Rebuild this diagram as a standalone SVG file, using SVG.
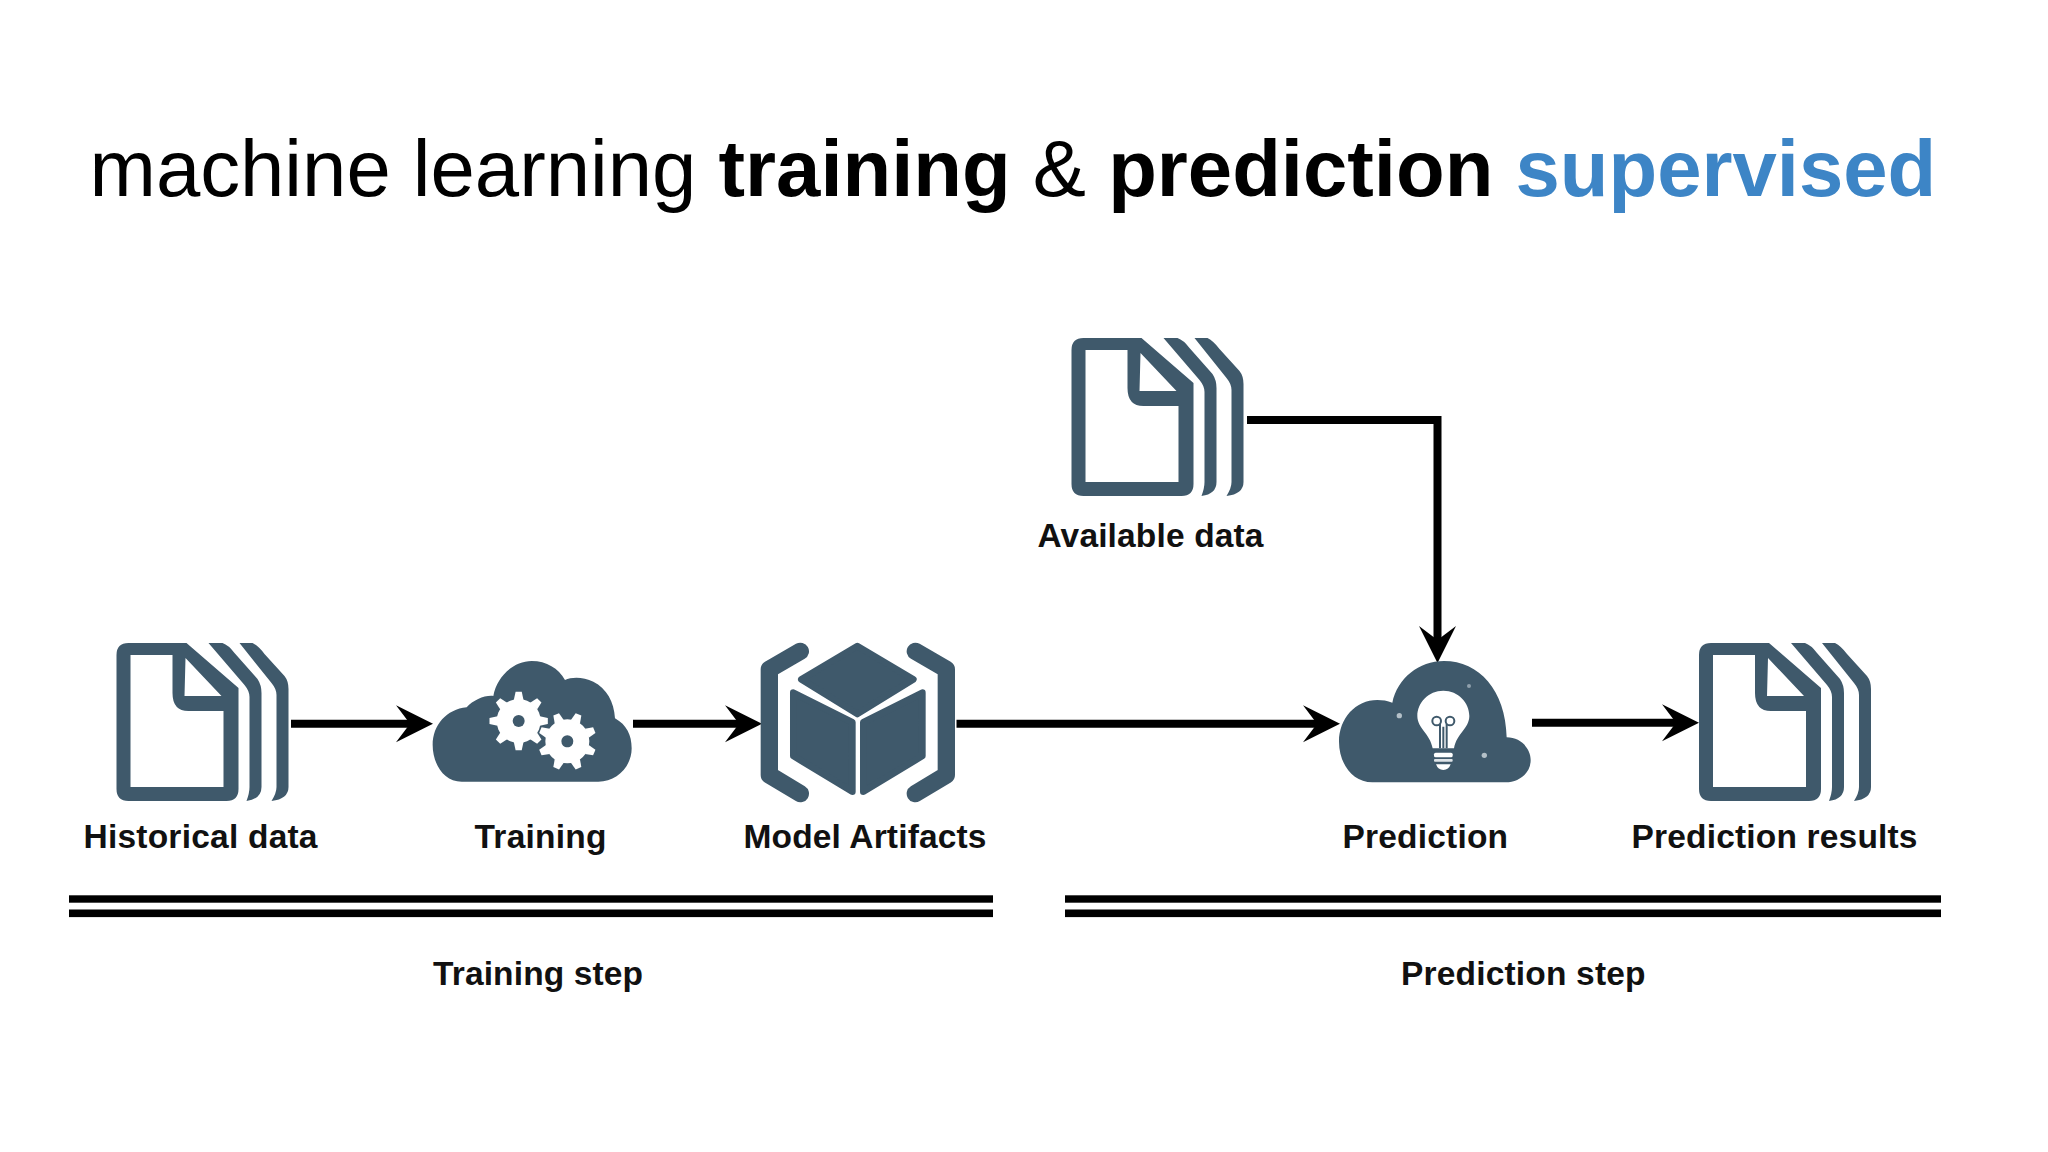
<svg xmlns="http://www.w3.org/2000/svg" width="2048" height="1152" viewBox="0 0 2048 1152">
<style>
.ink{fill:#3f596b}
.lbl{font-family:"Liberation Sans",Arial,sans-serif;font-weight:700;font-size:33.5px;fill:#111}
.title{font-family:"Liberation Sans",Arial,sans-serif;font-size:79.7px;fill:#000}
.conn{fill:none;stroke:#000;stroke-width:8}
.bar{fill:#000}
</style>
<defs>
<marker id="head" markerUnits="userSpaceOnUse" markerWidth="40" markerHeight="40" viewBox="0 -20 40 40" refX="17" refY="0" orient="auto" overflow="visible"><path d="M0 -18.5L37 0L0 18.5L14 0Z" fill="#000"/></marker>
<g id="doc">
<path class="ink" fill-rule="evenodd" d="M12 0H70L122 45V146Q122 158 110 158H12Q0 158 0 146V12Q0 0 12 0ZM14 12V144H107V68H72Q56 68 56 50V12ZM69 15L68 53H105Z"/>
<path class="ink" d="M92 0H106Q112 2 118 10L141 36Q145 42 145 50V144Q145 156 130 158Q133 150 133 144V54Q133 48 128 42Z"/>
<path class="ink" d="M123 0H136Q142 3 148 11L168 33Q172 38 172 46V144Q172 156 155 158Q160 150 160 144V52Q160 46 155 40Z"/>
</g>
<polygon id="tooth" points="-14.6,-63.3 -9.2,-87.5 9.2,-87.5 14.6,-63.3" fill="#fff"/>
<g id="gear">
<circle r="66" fill="#fff"/>
<use href="#tooth"/><use href="#tooth" transform="rotate(45)"/><use href="#tooth" transform="rotate(90)"/><use href="#tooth" transform="rotate(135)"/><use href="#tooth" transform="rotate(180)"/><use href="#tooth" transform="rotate(225)"/><use href="#tooth" transform="rotate(270)"/><use href="#tooth" transform="rotate(315)"/>
<circle r="18" class="ink"/>
</g>
</defs>
<rect width="2048" height="1152" fill="#fff"/>
<text class="title" x="89.5" y="196">machine learning <tspan font-weight="700">training</tspan> &amp; <tspan font-weight="700">prediction</tspan> <tspan font-weight="700" fill="#3d85c6">supervised</tspan></text>

<g id="connectors">
<path class="conn" d="M291 723.7H413" marker-end="url(#head)"/>
<path class="conn" d="M633 723.7H742" marker-end="url(#head)"/>
<path class="conn" d="M956.5 723.7H1320" marker-end="url(#head)"/>
<path class="conn" d="M1532 722.7H1679" marker-end="url(#head)"/>
<path class="conn" d="M1247 420H1437.5V643" marker-end="url(#head)"/>
</g>

<g id="historical-data">
<use href="#doc" x="116.5" y="643"/>
<text class="lbl" x="83.5" y="848" textLength="234">Historical data</text>
</g>
<g id="training">
<g transform="translate(430 650) scale(.33333)">
<path class="ink" d="M95 395C40 395 8 340 8 285C8 225 50 178 110 172C130 150 165 135 190 138C200 80 250 33 305 33C350 33 385 55 405 90C425 80 460 80 490 95C530 115 552 155 555 205C590 225 605 255 605 295C605 350 560 395 505 395Z"/>
<use href="#gear" transform="translate(266 213)"/>
<use href="#gear" transform="translate(412 274) rotate(22.5)"/>
</g>
<text class="lbl" x="474.5" y="848" textLength="132">Training</text>
</g>
<g id="model-artifacts">
<g transform="translate(760 640) scale(.33333)">
<path d="M121 34L28 88V405L121 461M466 34L559 88V405L466 461" fill="none" stroke="#3f596b" stroke-width="52" stroke-linecap="round" stroke-linejoin="round"/>
<g class="ink" stroke="#3f596b" stroke-width="20" stroke-linejoin="round">
<polygon points="292,18 460,118 292,222 124,118"/>
<polygon points="100,158 277,247 277,455 100,348"/>
<polygon points="487,158 310,247 310,455 487,348"/>
</g>
</g>
<text class="lbl" x="743.5" y="848" textLength="243">Model Artifacts</text>
</g>
<g id="available-data">
<use href="#doc" x="1071.5" y="338"/>
<text class="lbl" x="1037.5" y="547" textLength="226">Available data</text>
</g>
<g id="prediction">
<g transform="translate(1339 650) scale(.33333)">
<path class="ink" d="M100 397C40 397 0 340 0 275C0 205 50 150 115 150C130 150 145 152 160 158C175 85 240 33 315 33C420 33 500 120 503 262C545 262 575 295 575 330C575 370 540 397 500 397Z"/>
<path fill="#fff" d="M313 122C358 122 391 158 391 198C391 235 353 250 345 295H281C273 250 235 235 235 198C235 158 268 122 313 122Z"/>
<g fill="none" stroke="#3f596b" stroke-width="6">
<circle cx="293" cy="213" r="13"/><circle cx="333" cy="213" r="13"/>
<path d="M303 222V295M323 222V295M313 230V295"/>
</g>
<rect x="285" y="308" width="56" height="14" rx="5" fill="#fff"/>
<rect x="285" y="327" width="56" height="8" rx="3" fill="#dfe4e8"/>
<path d="M291 343H335Q329 360 313 360Q297 360 291 343Z" fill="#fff"/>
<circle cx="181" cy="197" r="8" fill="#b4c0c8"/><circle cx="390" cy="108" r="6" fill="#8fa0ac"/><circle cx="436" cy="316" r="8" fill="#b4c0c8"/>
</g>
<text class="lbl" x="1342.5" y="848" textLength="165.5">Prediction</text>
</g>
<g id="prediction-results">
<use href="#doc" x="1699" y="643"/>
<text class="lbl" x="1631.5" y="848" textLength="286">Prediction results</text>
</g>
<g id="training-step">
<rect class="bar" x="69" y="895.3" width="924" height="7.4"/>
<rect class="bar" x="69" y="909.5" width="924" height="7.6"/>
<text class="lbl" x="433" y="985" textLength="210">Training step</text>
</g>
<g id="prediction-step">
<rect class="bar" x="1065" y="895.3" width="876" height="7.4"/>
<rect class="bar" x="1065" y="909.5" width="876" height="7.6"/>
<text class="lbl" x="1401" y="985" textLength="244.5">Prediction step</text>
</g>
</svg>
